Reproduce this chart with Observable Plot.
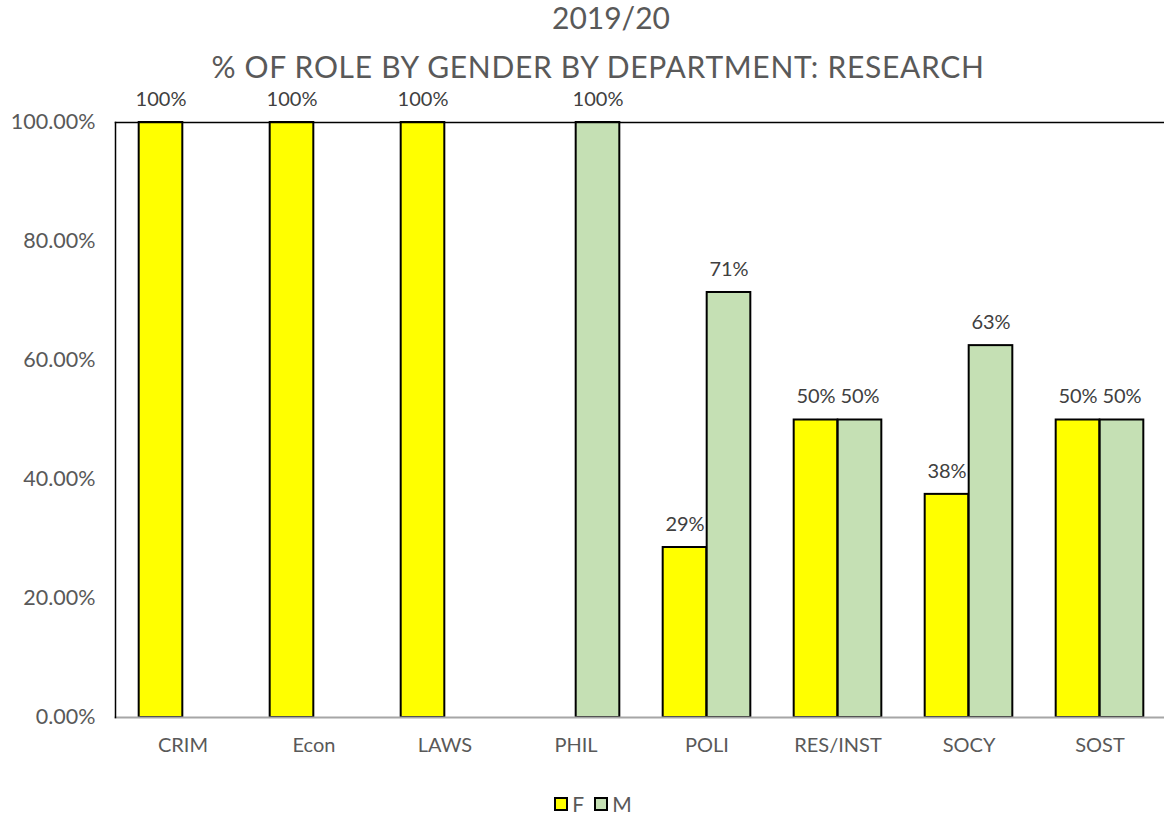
<!DOCTYPE html>
<html>
<head>
<meta charset="utf-8">
<script src="https://cdn.jsdelivr.net/npm/d3@7"></script>
<script src="https://cdn.jsdelivr.net/npm/@observablehq/plot@0.6"></script>
<style>
  html, body { margin: 0; padding: 0; background: #fff; }
  #wrap { position: relative; width: 1164px; height: 816px; font-family: Lato, "Open Sans", sans-serif; color: #595959; overflow: hidden; }
  #chart { position: absolute; left: 0; top: 0; }
  .title { position: absolute; text-align: center; white-space: nowrap; }
  #legend { position: absolute; top: 791px; left: 0; width: 1186px; display: flex; justify-content: center; align-items: center; font-size: 21px; }
  .sw { width: 10px; height: 10px; border: 2px solid #000; display: inline-block; margin-right: 4px; }
  .item { display: flex; align-items: center; margin: 0 5px; }
</style>
</head>
<body>
<div id="wrap">
  <div id="chart"></div>
  <div class="title" style="top:3px; left:411px; width:400px; font-size:30px; line-height:28px">2019/20</div>
  <div class="title" style="top:52px; left:98px; width:1000px; font-size:30px; line-height:28px; letter-spacing:0.7px">% OF ROLE BY GENDER BY DEPARTMENT: RESEARCH</div>
  <div id="legend"></div>
</div>
<script>
const departments = ["CRIM", "Econ", "LAWS", "PHIL", "POLI", "RES/INST", "SOCY", "SOST"];
const femaleValues = [100, 100, 100, null, 28.57, 50, 37.5, 50];
const maleValues = [null, null, null, 100, 71.43, 50, 62.5, 50];
const genders = ["F", "M"];
const genderColors = ["#FFFF00", "#C5E0B4"];
const yTicks = [0, 20, 40, 60, 80, 100];

const fData = departments.map((d, i) => ({dept: d, gender: "F", value: femaleValues[i]})).filter(r => r.value != null);
const mData = departments.map((d, i) => ({dept: d, gender: "M", value: maleValues[i]})).filter(r => r.value != null);

const band = (1166 - 115) / departments.length;
const barW = 44;
const outer = (band - 2 * barW) / 2;
const labelFmt = v => Math.round(v) + "%";

const chart = Plot.plot({
  width: 1164,
  height: 816,
  marginLeft: 115,
  marginRight: 0,
  marginTop: 122,
  marginBottom: 99,
  style: {fontFamily: "Lato, 'Open Sans', sans-serif", color: "#595959", background: "transparent"},
  x: {domain: departments, range: [115, 1166], padding: 0},
  y: {domain: [0, 100], range: [717, 122]},
  color: {domain: genders, range: genderColors},
  marks: [
    Plot.barY(fData, {x: "dept", y: "value", fill: "gender", stroke: "#000", strokeWidth: 2, insetLeft: outer, insetRight: band - outer - barW}),
    Plot.barY(mData, {x: "dept", y: "value", fill: "gender", stroke: "#000", strokeWidth: 2, insetLeft: outer + barW, insetRight: outer}),
    Plot.text(fData, {x: "dept", y: "value", text: d => labelFmt(d.value), dx: -barW / 2, dy: -23, fill: "#404040", fontSize: 20}),
    Plot.text(mData, {x: "dept", y: "value", text: d => labelFmt(d.value), dx: barW / 2, dy: -23, fill: "#404040", fontSize: 20}),
    Plot.frame({anchor: "bottom", stroke: "#a6a6a6", strokeWidth: 2}),
    Plot.frame({anchor: "top", stroke: "#000", strokeWidth: 1.5}),
    Plot.frame({anchor: "left", stroke: "#000", strokeWidth: 1.5}),
    Plot.axisY({ticks: yTicks, tickFormat: d => d.toFixed(2) + "%", tickSize: 0, tickPadding: 20, fontSize: 21.5, fill: "#595959", label: null}),
    Plot.axisX({tickSize: 0, tickPadding: 20, fontSize: 20, fill: "#595959", label: null})
  ]
});
document.getElementById("chart").appendChild(chart);

const legend = document.getElementById("legend");
genders.forEach((g, i) => {
  const item = document.createElement("div");
  item.className = "item";
  const sw = document.createElement("span");
  sw.className = "sw";
  sw.style.background = genderColors[i];
  const lab = document.createElement("span");
  lab.textContent = g;
  item.appendChild(sw);
  item.appendChild(lab);
  legend.appendChild(item);
});
</script>
</body>
</html>
